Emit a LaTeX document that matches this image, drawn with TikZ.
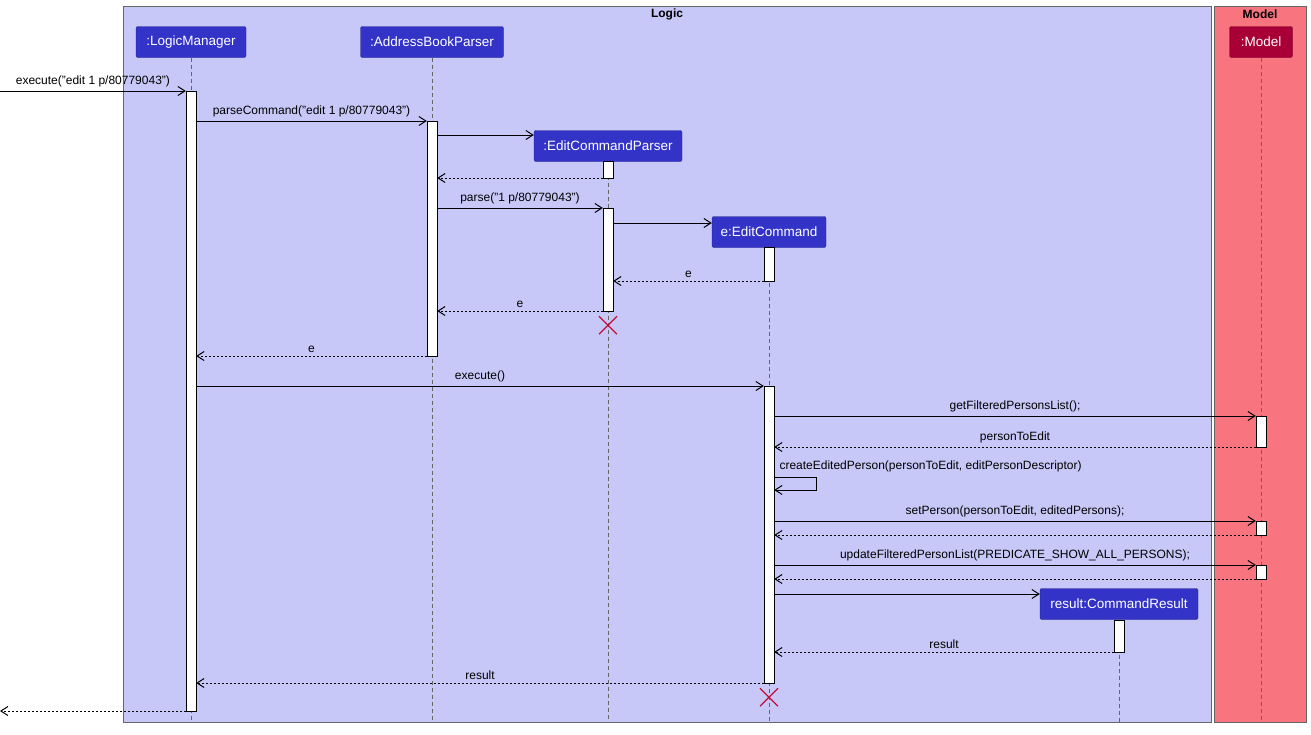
\documentclass[tikz,border=0pt]{standalone}
\usepackage{fontspec}
\setmainfont{Liberation Sans}
\usetikzlibrary{positioning, calc, arrows.meta}
\definecolor{logicbg}{HTML}{C8C8F8}
\definecolor{modelbg}{HTML}{F87580}
\definecolor{partblue}{HTML}{3333C8}
\definecolor{partred}{HTML}{A80036}
\definecolor{crossred}{HTML}{C0103A}
\begin{document}
\begin{tikzpicture}[x=1pt, y=-1pt, font=\fontsize{12}{14}\selectfont]
    \tikzstyle{part} = [rectangle, rounded corners=2pt, draw=partblue!70!black, fill=partblue, text=white, minimum height=31pt, inner xsep=3pt, font=\fontsize{13.5}{15}\selectfont]
    \tikzstyle{act} = [rectangle, draw=black, fill=white, minimum width=10pt, inner sep=0pt]
    \tikzstyle{life} = [draw=black!60, dashed, dash pattern=on 4pt off 3pt]
    \tikzstyle{msg} = [-{Straight Barb[length=7pt,width=9pt,line width=1pt]}, draw=black]
    \tikzstyle{ret} = [msg, dashed, dash pattern=on 2pt off 2pt]
    \tikzstyle{cross} = [draw=crossred, line width=1.2pt]
    \useasboundingbox (0,0) rectangle (1311,734);

    % frames
    \draw[fill=logicbg, draw=black!60] (123,6) rectangle (1211,722);
    \draw[fill=modelbg, draw=black!60] (1214,6) rectangle (1306,722);
    \node[font=\bfseries\fontsize{12}{14}\selectfont] (logict) at (667,14) {Logic};
    \node[font=\bfseries\fontsize{12}{14}\selectfont] (modelt) at (1260,14) {Model};

    % participants
    \node[part, minimum width=110pt] (lm) at (191,42) {:LogicManager};
    \node[part, minimum width=143pt] (abp) at (432,42) {:AddressBookParser};
    \node[part, minimum width=148pt] (ecp) at (608,146) {:EditCommandParser};
    \node[part, minimum width=114pt] (ec) at (769,232) {e:EditCommand};
    \node[part, minimum width=158pt] (cr) at (1119,604) {result:CommandResult};
    \node[part, minimum width=63pt, fill=partred, draw=partred!70!black] (mdl) at (1261,42) {:Model};

    % lifelines
    \draw[life] (lm.south) -- (lm.south |- 0,722);
    \draw[life] (abp.south) -- (abp.south |- 0,722);
    \draw[life] (ecp.south) -- (ecp.south |- 0,722);
    \draw[life] (ec.south) -- (ec.south |- 0,722);
    \draw[life] (cr.south) -- (cr.south |- 0,722);
    \draw[life] (mdl.south) -- (mdl.south |- 0,722);

    % activations
    \node[act, minimum height=620pt] (lma) at (191,401) {};
    \node[act, minimum height=235pt] (abpa) at (432,238.5) {};
    \node[act, minimum height=17pt] (ecpa) at (608,169.5) {};
    \node[act, minimum height=103pt] (ecpb) at (608,259.5) {};
    \node[act, minimum height=34pt] (eca) at (769,264) {};
    \node[act, minimum height=297pt] (ecb) at (769,534.5) {};
    \node[act, minimum height=31pt] (mda) at (1261,431.5) {};
    \node[act, minimum height=14pt] (mdb) at (1261,528) {};
    \node[act, minimum height=14pt] (mdc) at (1261,572) {};
    \node[act, minimum height=32pt] (cra) at (1119,636) {};
    \coordinate (lin) at (0,91);
    \coordinate (lout) at (0,711);

    % messages
    \draw[msg] (lin) -- node[above, pos=0.5] {execute("edit 1 p/80779043")} (lma.west |- lin);
    \draw[msg] (lma.east |- 0,121) -- node[above] {parseCommand("edit 1 p/80779043")} (abpa.west |- 0,121);
    \draw[msg] (abpa.east |- 0,135) -- (ecp.west |- 0,135);
    \draw[ret] (ecpa.west |- 0,178) -- (abpa.east |- 0,178);
    \draw[msg] (abpa.east |- 0,208) -- node[above] {parse("1 p/80779043")} (ecpb.west |- 0,208);
    \draw[msg] (ecpb.east |- 0,223) -- (ec.west |- 0,223);
    \draw[ret] (eca.west |- 0,281) -- node[above] {e} (ecpb.east |- 0,281);
    \draw[ret] (ecpb.west |- 0,311) -- node[above] {e} (abpa.east |- 0,311);
    \draw[ret] (abpa.west |- 0,356) -- node[above] {e} (lma.east |- 0,356);
    \draw[msg] (lma.east |- 0,386) -- node[above] {execute()} (ecb.west |- 0,386);
    \draw[msg] (ecb.east |- 0,416) -- node[above] {getFilteredPersonsList();} (mda.west |- 0,416);
    \draw[ret] (mda.west |- 0,447) -- node[above] {personToEdit} (ecb.east |- 0,447);
    \draw[msg] (ecb.east |- 0,477) -- ++(42,0) -- ++(0,13) -- (ecb.east |- 0,490);
    \node[anchor=south west] (selfl) at (776,476) {createEditedPerson(personToEdit, editPersonDescriptor)};
    \draw[msg] (ecb.east |- 0,521) -- node[above] {setPerson(personToEdit, editedPersons);} (mdb.west |- 0,521);
    \draw[ret] (mdb.west |- 0,535) -- (ecb.east |- 0,535);
    \draw[msg] (ecb.east |- 0,565) -- node[above] {updateFilteredPersonList(PREDICATE\_SHOW\_ALL\_PERSONS);} (mdc.west |- 0,565);
    \draw[ret] (mdc.west |- 0,579) -- (ecb.east |- 0,579);
    \draw[msg] (ecb.east |- 0,594) -- (cr.west |- 0,594);
    \draw[ret] (cra.west |- 0,652) -- node[above] {result} (ecb.east |- 0,652);
    \draw[ret] (ecb.west |- 0,683) -- node[above] {result} (lma.east |- 0,683);
    \draw[ret] (lma.west |- lout) -- (lout);

    % destructions
    \draw[cross] ($(ecpb.south)+(-9,5)$) -- ++(18,18) ($(ecpb.south)+(9,5)$) -- ++(-18,18);
    \draw[cross] ($(ecb.south)+(-9,5)$) -- ++(18,18) ($(ecb.south)+(9,5)$) -- ++(-18,18);
\end{tikzpicture}
\end{document}
